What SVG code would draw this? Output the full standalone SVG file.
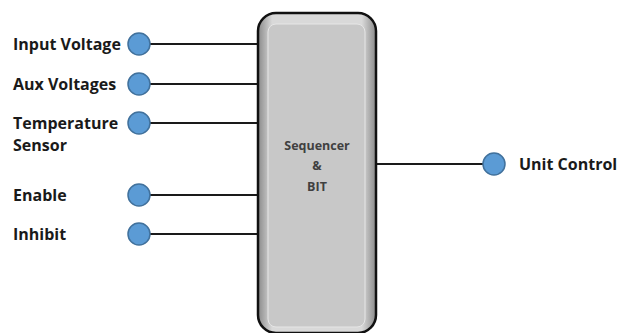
<svg xmlns="http://www.w3.org/2000/svg" width="625" height="333" viewBox="0 0 625 333">
<style>
.lbl{font-family:"Open Sans","Liberation Sans",sans-serif;font-weight:bold;font-size:16px;fill:#1a1a1a}
.mid{font-family:"Open Sans","Liberation Sans",sans-serif;font-weight:bold;font-size:12.5px;fill:#404040;text-anchor:middle}
.pin{fill:#5b9bd5;stroke:#41719c;stroke-width:1.5}
.wire{stroke:#1a1a1a;stroke-width:2;fill:none}
</style>
<defs>
<linearGradient id="g" x1="0" y1="0" x2="1" y2="0">
<stop offset="0" stop-color="#8a8a8a"/>
<stop offset="0.12" stop-color="#d9d9d9"/>
<stop offset="0.88" stop-color="#d9d9d9"/>
<stop offset="1" stop-color="#8a8a8a"/>
</linearGradient>
</defs>
<g id="connectors">
<line class="wire" x1="150" y1="44" x2="258" y2="44"/>
<line class="wire" x1="150" y1="84" x2="258" y2="84"/>
<line class="wire" x1="150" y1="123" x2="258" y2="123"/>
<line class="wire" x1="150" y1="195" x2="258" y2="195"/>
<line class="wire" x1="150" y1="234" x2="258" y2="234"/>
<line class="wire" x1="376" y1="164" x2="483" y2="164"/>
</g>
<g id="sequencer">
<rect x="258" y="13" width="118" height="320" rx="18" fill="url(#g)" stroke="#111" stroke-width="2.5"/>
<rect x="268" y="24" width="97" height="303" rx="8" fill="#c8c8c8" stroke="#e6e6e6" stroke-width="1"/>
<text class="mid" x="317" y="150">Sequencer</text>
<text class="mid" x="317" y="170">&amp;</text>
<text class="mid" x="317" y="191">BIT</text>
</g>
<g id="input-voltage"><circle class="pin" cx="139" cy="44" r="11"/><text class="lbl" x="13" y="50">Input Voltage</text></g>
<g id="aux-voltages"><circle class="pin" cx="139" cy="84" r="11"/><text class="lbl" x="13" y="90">Aux Voltages</text></g>
<g id="temperature-sensor"><circle class="pin" cx="139" cy="123" r="11"/><text class="lbl" x="13" y="129">Temperature</text><text class="lbl" x="13" y="151">Sensor</text></g>
<g id="enable"><circle class="pin" cx="139" cy="195" r="11"/><text class="lbl" x="13" y="201">Enable</text></g>
<g id="inhibit"><circle class="pin" cx="139" cy="234" r="11"/><text class="lbl" x="13" y="240">Inhibit</text></g>
<g id="unit-control"><circle class="pin" cx="494" cy="164" r="11"/><text class="lbl" x="519" y="170">Unit Control</text></g>
</svg>
